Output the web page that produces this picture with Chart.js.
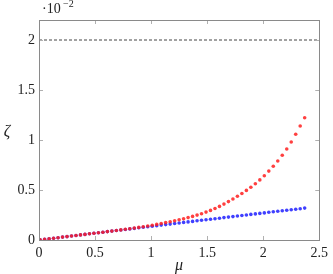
<!DOCTYPE html>
<html><head><meta charset="utf-8">
<script src="https://cdn.jsdelivr.net/npm/chart.js@4/dist/chart.umd.min.js"></script>
<style>html,body{margin:0;padding:0;background:#fff}</style>
</head><body>
<canvas id="c" width="333" height="274"></canvas>
<script>
// mu values (x)
const muValues=[0.01,0.05,0.09,0.13,0.17,0.21,0.25,0.29,0.33,0.37,0.41,0.45,0.49,0.53,0.57,0.61,0.65,0.69,0.73,0.77,0.81,0.85,0.89,0.93,0.97,1.01,1.05,1.09,1.13,1.17,1.21,1.25,1.29,1.33,1.37,1.41,1.45,1.49,1.53,1.57,1.61,1.65,1.69,1.73,1.77,1.81,1.85,1.89,1.93,1.97,2.01,2.05,2.09,2.13,2.17,2.21,2.25,2.29,2.33,2.37];
// zeta, in units of 10^-2
const zetaRed=[0.001,0.007,0.012,0.018,0.023,0.029,0.034,0.040,0.045,0.051,0.056,0.062,0.067,0.073,0.078,0.084,0.089,0.095,0.101,0.107,0.113,0.119,0.126,0.133,0.140,0.148,0.156,0.165,0.174,0.183,0.193,0.203,0.213,0.224,0.236,0.249,0.263,0.279,0.296,0.315,0.336,0.359,0.384,0.410,0.437,0.465,0.496,0.528,0.563,0.601,0.643,0.689,0.738,0.790,0.847,0.910,0.980,1.058,1.140,1.223];
const zetaBlue=[0.001,0.007,0.012,0.018,0.023,0.029,0.034,0.040,0.045,0.051,0.056,0.062,0.067,0.073,0.078,0.084,0.089,0.095,0.100,0.105,0.111,0.116,0.122,0.127,0.132,0.138,0.143,0.149,0.154,0.159,0.165,0.170,0.176,0.181,0.186,0.192,0.197,0.202,0.208,0.213,0.218,0.224,0.229,0.234,0.240,0.245,0.250,0.256,0.261,0.266,0.271,0.277,0.282,0.287,0.292,0.298,0.303,0.308,0.313,0.319];
const refLevel=[2,2];
const refX=[0,2.5];
const xTicks=[0,0.5,1,1.5,2,2.5];
const yTicks=[0,0.5,1,1.5,2];
const xLabel='μ', yLabel='ζ';

const pts=(xs,ys)=>xs.map((x,i)=>({x:x,y:ys[i]}));
const serif='Liberation Serif, serif';

const deco={
  id:'deco',
  afterDraw(chart){
    const ctx=chart.ctx, a=chart.chartArea, xs=chart.scales.x, ys=chart.scales.y;
    ctx.save();
    ctx.strokeStyle='#b0b0b0'; ctx.lineWidth=1;
    ctx.beginPath();
    xTicks.forEach(v=>{const p=Math.round(xs.getPixelForValue(v))+0.5;
      ctx.moveTo(p,a.bottom);ctx.lineTo(p,a.bottom-4);
      ctx.moveTo(p,a.top);ctx.lineTo(p,a.top+4);});
    yTicks.forEach(v=>{const p=Math.round(ys.getPixelForValue(v))+0.5;
      ctx.moveTo(a.left,p);ctx.lineTo(a.left+4,p);
      ctx.moveTo(a.right,p);ctx.lineTo(a.right-4,p);});
    ctx.stroke();
    ctx.strokeStyle='#8a8a8a'; ctx.lineWidth=1;
    ctx.strokeRect(Math.round(a.left)+0.5,Math.round(a.top)+0.5,Math.round(a.right-a.left),Math.round(a.bottom-a.top));
    ctx.fillStyle='#222';
    ctx.textBaseline='alphabetic'; ctx.textAlign='left';
    ctx.font='14px '+serif;
    ctx.fillText('·10',42,13);
    ctx.font='10px '+serif;
    ctx.fillText('−2',63,7);
    ctx.font='italic 16px '+serif;
    ctx.textAlign='center';
    ctx.fillText(yLabel,7,136);
    ctx.fillText(xLabel,(a.left+a.right)/2,270);
    ctx.restore();
  }
};

new Chart(document.getElementById('c'),{
  type:'scatter',
  data:{datasets:[
    {label:'red',data:pts(muValues,zetaRed),backgroundColor:'rgba(255,30,30,0.85)',borderWidth:0,pointRadius:1.8,pointStyle:'circle'},
    {label:'blue',data:pts(muValues,zetaBlue),backgroundColor:'rgba(30,30,255,0.85)',borderWidth:0,pointRadius:1.8,pointStyle:'circle'},
    {label:'ref',type:'line',data:pts(refX,refLevel),borderColor:'#444',borderWidth:1,borderDash:[3,2],pointRadius:0,fill:false}
  ]},
  options:{
    responsive:false,animation:false,
    layout:{padding:{top:20,right:13,left:0,bottom:0}},
    plugins:{legend:{display:false},tooltip:{enabled:false}},
    scales:{
      x:{type:'linear',min:0,max:2.5,
        afterBuildTicks:s=>{s.ticks=xTicks.map(v=>({value:v}));},
        afterFit:s=>{s.height=34;},
        grid:{display:false,drawTicks:false},border:{display:false},
        ticks:{padding:5,color:'#222',font:{family:serif,size:14},callback:v=>String(v)}},
      y:{type:'linear',min:0,max:2.2,
        afterBuildTicks:s=>{s.ticks=yTicks.map(v=>({value:v}));},
        afterFit:s=>{s.width=39;},
        grid:{display:false,drawTicks:false},border:{display:false},
        ticks:{padding:4,color:'#222',font:{family:serif,size:14},callback:v=>String(v)}}
    }
  },
  plugins:[deco]
});
</script>
</body></html>
